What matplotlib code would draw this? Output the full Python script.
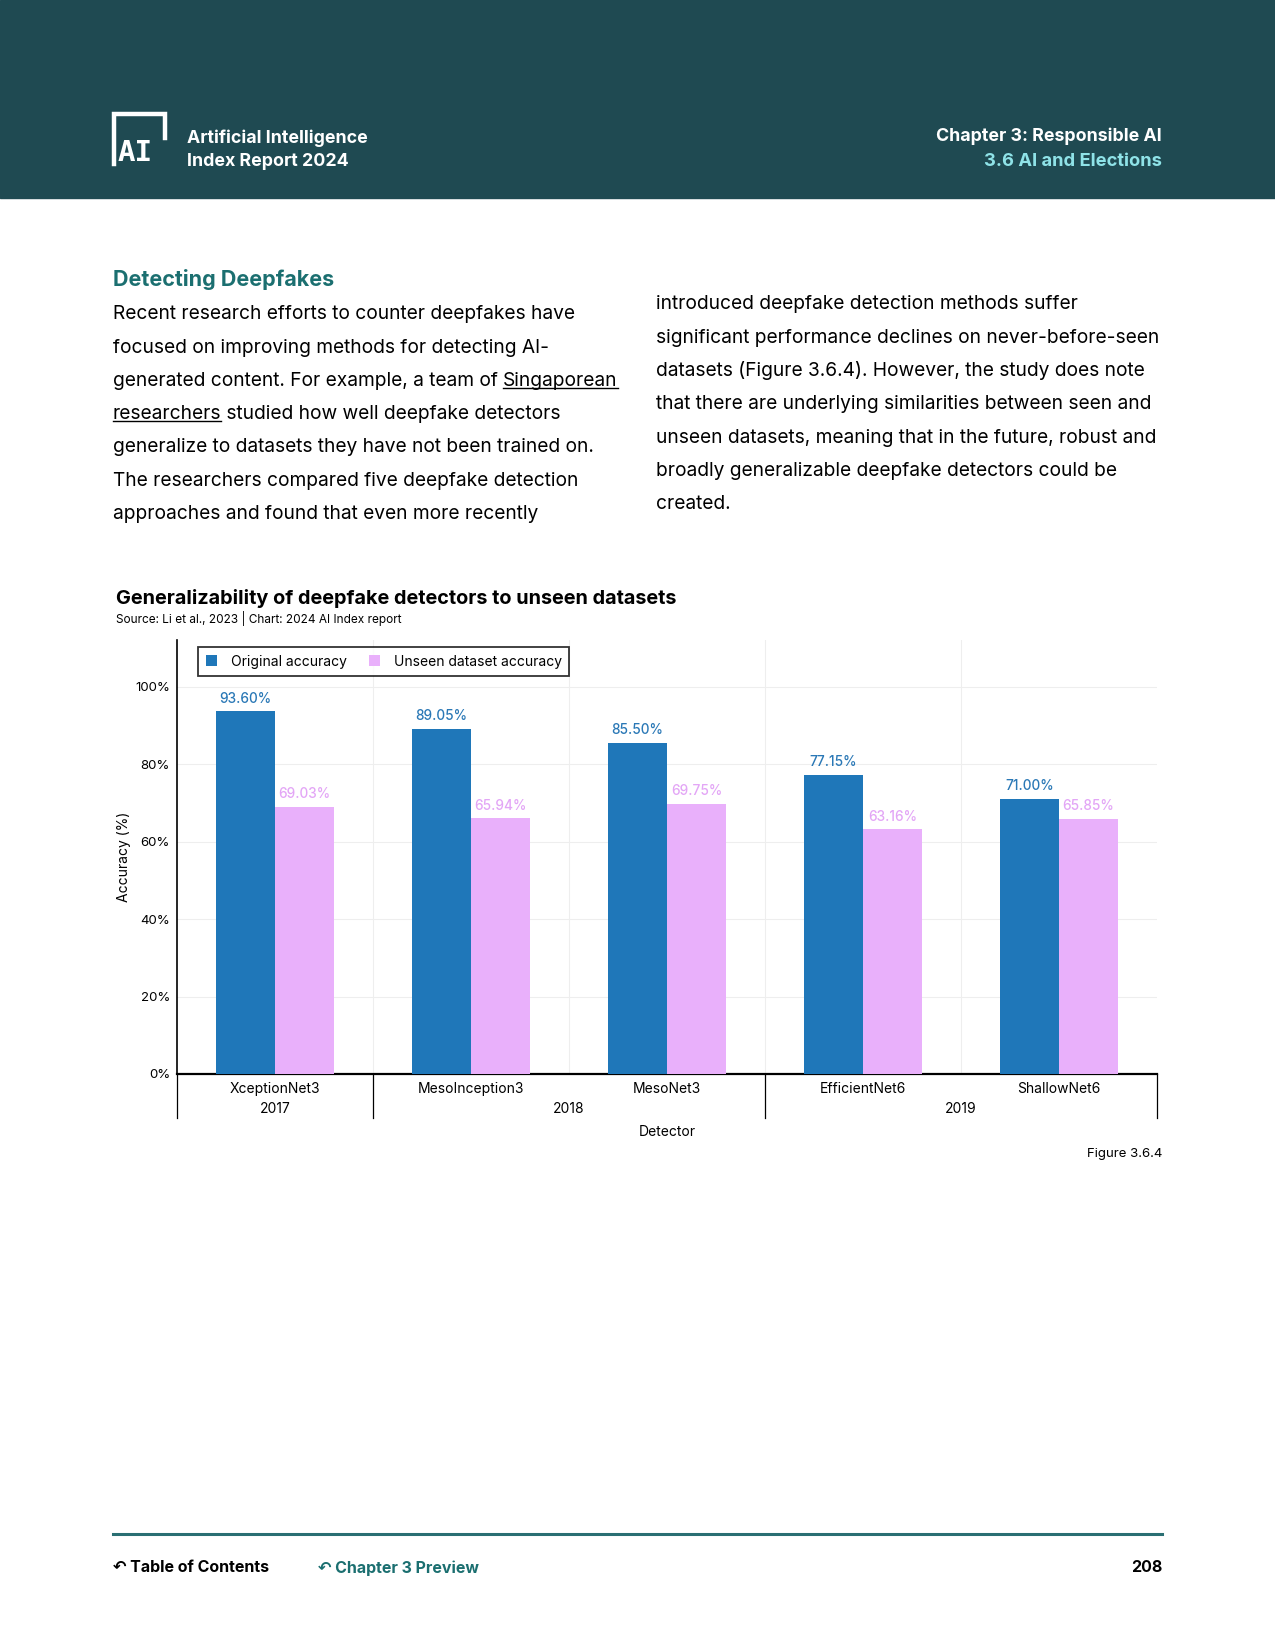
import matplotlib
matplotlib.use("Agg")
import matplotlib.pyplot as plt
from matplotlib.lines import Line2D
from matplotlib.patches import Rectangle
import matplotlib.transforms as mtransforms
import numpy as np

plt.rcParams['font.family'] = ['Inter', 'DejaVu Sans']

# data
detectors = ["XceptionNet3", "MesoInception3", "MesoNet3", "EfficientNet6", "ShallowNet6"]
years = ["2017", "2018", "2018", "2019", "2019"]
original_acc = [93.60, 89.05, 85.50, 77.15, 71.00]
unseen_acc = [69.03, 65.94, 69.75, 63.16, 65.85]
yticks = [0, 20, 40, 60, 80, 100]

BLUE = "#1f77b9"
PINK = "#e9b0fb"
BLUE_TXT = "#2a78b6"
PINK_TXT = "#e3a6f6"
HEAD = "#1f4a52"
TEAL = "#1b6f70"

W, H = 1275, 1650
fig = plt.figure(figsize=(W / 100, H / 100), dpi=100)

def fx(x):
    return x / W

def fy(y):
    return 1 - y / H

# header band
fig.patches.append(Rectangle((0, fy(198)), 1, 198 / H, transform=fig.transFigure,
                             color=HEAD, zorder=0))
# logo
lw = 3.2
fig.add_artist(Line2D([fx(114), fx(114), fx(165), fx(165)],
                      [fy(164), fy(114), fy(114), fy(138)],
                      transform=fig.transFigure, color="white", lw=lw,
                      solid_joinstyle="miter"))
fig.text(fx(118), fy(153), "AI", color="white", fontsize=21, fontweight="bold",
         va="center", ha="left", family="DejaVu Sans Mono")
fig.text(fx(187), fy(138), "Artificial Intelligence", color="white", fontsize=12.8,
         fontweight="bold", va="center")
fig.text(fx(187), fy(161), "Index Report 2024", color="white", fontsize=12.8,
         fontweight="bold", va="center")
fig.text(fx(1162), fy(136), "Chapter 3: Responsible AI", color="white", fontsize=12.8,
         fontweight="bold", va="center", ha="right")
fig.text(fx(1162), fy(161), "3.6 AI and Elections", color="#8fe3e8", fontsize=13.2,
         fontweight="bold", va="center", ha="right")

# section heading and body text
fig.text(fx(113), fy(280), "Detecting Deepfakes", color=TEAL, fontsize=15.5,
         fontweight="bold", va="center")

left_lines = [
    "Recent research efforts to counter deepfakes have",
    "focused on improving methods for detecting AI-",
    "generated content. For example, a team of ",
    "",
    "generalize to datasets they have not been trained on.",
    "The researchers compared five deepfake detection",
    "approaches and found that even more recently",
]
left_y = [314, 348, 381, 414, 447, 481, 514]
right_lines = [
    "introduced deepfake detection methods suffer",
    "significant performance declines on never-before-seen",
    "datasets (Figure 3.6.4). However, the study does note",
    "that there are underlying similarities between seen and",
    "unseen datasets, meaning that in the future, robust and",
    "broadly generalizable deepfake detectors could be",
    "created.",
]
right_y = [304, 338, 371, 404, 438, 471, 504]
BODY = 13.8

renderer = fig.canvas.get_renderer()

def underlined(x0, y, s):
    t = fig.text(x0, y, s, fontsize=BODY, va="center", color="black")
    bb = t.get_window_extent(renderer).transformed(fig.transFigure.inverted())
    fig.add_artist(Line2D([bb.x0, bb.x1], [bb.y0 + 0.001, bb.y0 + 0.001],
                          transform=fig.transFigure, color="black", lw=1))
    return bb

for s, y in zip(left_lines, left_y):
    if s:
        t = fig.text(fx(113), fy(y), s, fontsize=BODY, va="center")
    if s.startswith("generated"):
        bb = t.get_window_extent(renderer).transformed(fig.transFigure.inverted())
        underlined(bb.x1, fy(y), "Singaporean")
    if s == "":
        bb = underlined(fx(113), fy(y), "researchers")
        fig.text(bb.x1, fy(y), " studied how well deepfake detectors",
                 fontsize=BODY, va="center")

for s, y in zip(right_lines, right_y):
    fig.text(fx(656), fy(y), s, fontsize=BODY, va="center")

# chart title
fig.text(fx(116), fy(599), "Generalizability of deepfake detectors to unseen datasets",
         fontsize=14.3, fontweight="bold", va="center")
fig.text(fx(116), fy(619), "Source: Li et al., 2023 | Chart: 2024 AI Index report",
         fontsize=8.5, va="center")

# axes
ax = fig.add_axes([fx(177), fy(1074), (1157 - 177) / W, (1074 - 640) / H])
x = np.arange(len(detectors))
bw = 0.3
b1 = ax.bar(x - bw / 2, original_acc, bw, color=BLUE, label="Original accuracy", zorder=3)
b2 = ax.bar(x + bw / 2, unseen_acc, bw, color=PINK, label="Unseen dataset accuracy", zorder=3)
ax.bar_label(b1, labels=[f"{v:.2f}%" for v in original_acc], padding=4,
             color=BLUE_TXT, fontsize=9.8, fontweight="medium")
ax.bar_label(b2, labels=[f"{v:.2f}%" for v in unseen_acc], padding=4,
             color=PINK_TXT, fontsize=9.8, fontweight="medium")

ax.set_xlim(-0.5, len(detectors) - 0.5)
ax.set_ylim(0, 112)
ax.set_yticks(yticks)
ax.set_yticklabels([f"{v}%" for v in yticks], fontsize=9.5)
ax.set_xticks(x)
ax.set_xticklabels(detectors, fontsize=10)
ax.set_xticks(np.arange(len(detectors) - 1) + 0.5, minor=True)
ax.tick_params(axis="both", which="both", length=0)
ax.tick_params(axis="x", pad=6)
ax.tick_params(axis="y", pad=5)
ax.grid(axis="y", color="#eeeeee", lw=0.8, zorder=0)
ax.grid(axis="x", which="minor", color="#eeeeee", lw=0.8, zorder=0)
for side in ["top", "right"]:
    ax.spines[side].set_visible(False)
ax.spines["left"].set_linewidth(1.2)
ax.spines["bottom"].set_linewidth(1.6)
ax.set_ylabel("Accuracy (%)", fontsize=10, labelpad=3)

# year grouping below the axis
trans = mtransforms.blended_transform_factory(ax.transData, ax.transAxes)
bounds = [-0.5]
for i in range(1, len(years)):
    if years[i] != years[i - 1]:
        bounds.append(i - 0.5)
bounds.append(len(years) - 0.5)
for b in bounds:
    ax.add_line(Line2D([b, b], [0, -44 / 434], transform=trans, color="black",
                       lw=0.9, clip_on=False))
for lo, hi in zip(bounds[:-1], bounds[1:]):
    yr = years[int(lo + 0.5)]
    ax.text((lo + hi) / 2, -35 / 434, yr, transform=trans, ha="center", va="center",
            fontsize=10)
ax.text(0.5, -58 / 434, "Detector", transform=ax.transAxes, ha="center",
        va="center", fontsize=10)

leg = ax.legend(loc="upper left", bbox_to_anchor=(14 / 980, 1.0), ncol=2,
                fontsize=10, frameon=True, fancybox=False, handlelength=0.8,
                handleheight=0.8, borderpad=0.55, columnspacing=1.6,
                handletextpad=1.0)
leg.get_frame().set_edgecolor("black")
leg.get_frame().set_linewidth(1.3)

fig.text(fx(1162), fy(1154), "Figure 3.6.4", fontsize=9.5, ha="right", va="center")

# footer
fig.add_artist(Line2D([fx(113), fx(1162)], [fy(1534), fy(1534)],
                      transform=fig.transFigure, color="#2a6f73", lw=2.2))
fig.text(fx(113), fy(1568), "\u21b6 Table of Contents", fontsize=11.5,
         fontweight="bold", va="center", family=["Inter", "DejaVu Sans"])
fig.text(fx(318), fy(1568), "\u21b6 Chapter 3 Preview", fontsize=11.5,
         fontweight="bold", va="center", color=TEAL, family=["Inter", "DejaVu Sans"])
fig.text(fx(1162), fy(1568), "208", fontsize=11.5, fontweight="bold", ha="right",
         va="center")

fig.savefig("out.png", dpi=100)
